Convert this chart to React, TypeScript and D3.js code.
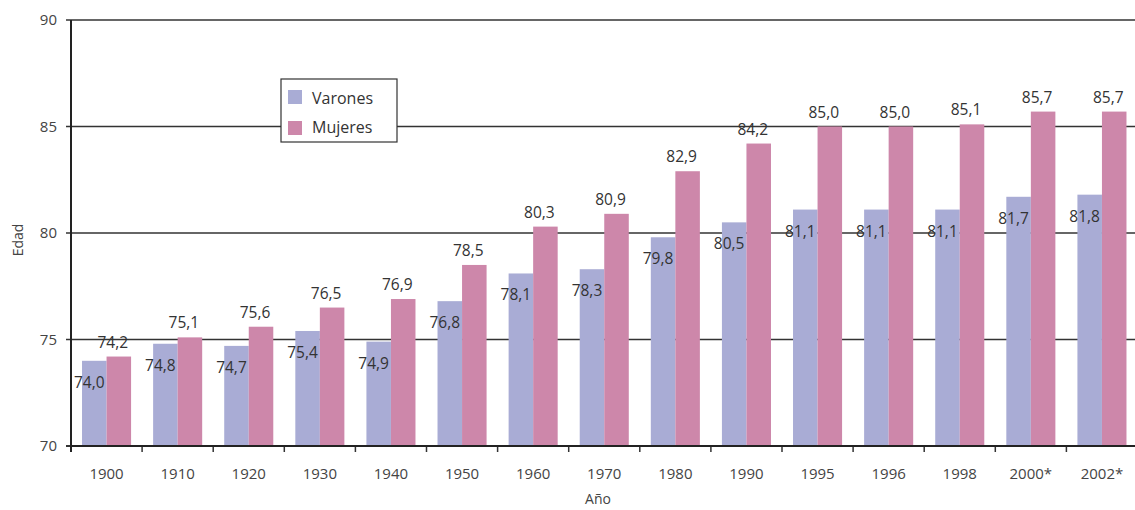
import React from "react";
import * as d3 from "d3";

const years = ["1900", "1910", "1920", "1930", "1940", "1950", "1960", "1970", "1980", "1990", "1995", "1996", "1998", "2000*", "2002*"];
const varones = [74.0, 74.8, 74.7, 75.4, 74.9, 76.8, 78.1, 78.3, 79.8, 80.5, 81.1, 81.1, 81.1, 81.7, 81.8];
const mujeres = [74.2, 75.1, 75.6, 76.5, 76.9, 78.5, 80.3, 80.9, 82.9, 84.2, 85.0, 85.0, 85.1, 85.7, 85.7];
const yTicks = [70, 75, 80, 85, 90];
const seriesNames = ["Varones", "Mujeres"];
const colors = ["#A9ACD5", "#CD87AA"];

const W = 1135, H = 510;
const left = 71, top = 20, bottom = 446, right = 71 + 15 * 71.1;

export default function App() {
  const x = d3.scaleBand<string>().domain(years).range([left, right]).paddingInner(0.31).paddingOuter(0.155);
  const y = d3.scaleLinear().domain([70, 90]).range([bottom, top]);
  const bw = x.bandwidth() / 2;
  const fmt = (v: number) => v.toFixed(1).replace(".", ",");
  const font = "'Open Sans', 'Liberation Sans', sans-serif";
  const step = x.step();
  return (
    <svg width={W} height={H} style={{ position: "absolute", left: 0, top: 0 }} fontFamily={font}>
      <rect width={W} height={H} fill="#fff" />
      {yTicks.map((t) => (
        <g key={t}>
          <line x1={left - 5} x2={W} y1={y(t)} y2={y(t)} stroke="#333" strokeWidth={t === 70 ? 2 : 1.3} />
          <text x={left - 14} y={y(t)} dy="0.35em" textAnchor="end" fontSize={15} fill="#444">{t}</text>
        </g>
      ))}
      {years.map((yr, i) => {
        const x0 = x(yr)!;
        return (
          <g key={yr}>
            <rect x={x0} y={y(varones[i])} width={bw} height={bottom - y(varones[i])} fill={colors[0]} />
            <rect x={x0 + bw} y={y(mujeres[i])} width={bw} height={bottom - y(mujeres[i])} fill={colors[1]} />
            <text x={x0 + bw - 2} y={y(varones[i]) + 27} textAnchor="end" fontSize={15.5} fill="#333">{fmt(varones[i])}</text>
            <text x={x0 + bw * 1.5 - 6} y={y(mujeres[i]) - 9} textAnchor="middle" fontSize={15.5} fill="#333">{fmt(mujeres[i])}</text>
            <text x={x0 + bw} y={bottom + 33} textAnchor="middle" fontSize={15} fill="#444">{yr}</text>
          </g>
        );
      })}
      {d3.range(16).map((k) => (
        <line key={k} x1={left + k * step} x2={left + k * step} y1={bottom} y2={bottom + 6} stroke="#333" strokeWidth={1.5} />
      ))}
      <line x1={left} x2={W} y1={bottom} y2={bottom} stroke="#222" strokeWidth={2} />
      <line x1={left} x2={left} y1={top} y2={bottom + 6} stroke="#222" strokeWidth={2} />
      <g>
        <rect x={281} y={79} width={116} height={63} fill="#fff" stroke="#333" strokeWidth={1.2} />
        {seriesNames.map((s, i) => (
          <g key={s}>
            <rect x={288} y={90 + i * 31} width={14} height={14} fill={colors[i]} />
            <text x={312} y={104 + i * 29} fontSize={16} fill="#333">{s}</text>
          </g>
        ))}
      </g>
      <text transform="translate(23,240) rotate(-90)" textAnchor="middle" fontSize={14} fill="#444">Edad</text>
      <text x={598} y={504} textAnchor="middle" fontSize={14} fill="#444">Año</text>
    </svg>
  );
}
